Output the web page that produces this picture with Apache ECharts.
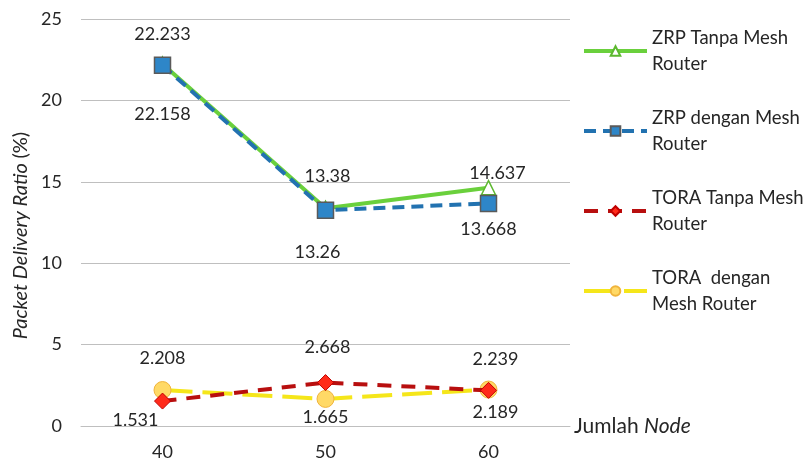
<!DOCTYPE html>
<html>
<head>
<meta charset="utf-8">
<script src="https://cdn.jsdelivr.net/npm/echarts@6/dist/echarts.min.js"></script>
<style>
  html, body { margin: 0; padding: 0; background: #ffffff; }
  #chart { width: 807px; height: 461px; }
</style>
</head>
<body>
<div id="chart"></div>
<script>
// Jumlah node (x categories)
const nodeCounts = ['40', '50', '60'];
// Packet delivery ratio (%) per scenario
const zrpTanpa = [22.233, 13.38, 14.637];
const zrpDengan = [22.158, 13.26, 13.668];
const toraTanpa = [1.531, 2.668, 2.189];
const toraDengan = [2.208, 1.665, 2.239];
const seriesNames = ['ZRP Tanpa Mesh Router', 'ZRP dengan Mesh Router', 'TORA Tanpa Mesh Router', 'TORA  dengan Mesh Router'];
const legendText = ['ZRP Tanpa Mesh\nRouter', 'ZRP dengan Mesh\nRouter', 'TORA Tanpa Mesh\nRouter', 'TORA  dengan\nMesh Router'];
const yTicks = [0, 5, 10, 15, 20, 25];

// value-label nudges (pixels) so labels clear the markers and each other
const labelNudge = [
  [[0, -30], [2, -32], [9, -15]],
  [[0, 49], [-8, 42], [0, 26]],
  [[-27, 19], [2, -35], [7, 22]],
  [[0, -32], [0, 18], [7, -30]]
];

const FONT = 'Lato, "Open Sans", sans-serif';
const INK = '#262626';

function points(values, idx) {
  return values.map((v, i) => ({
    value: v,
    label: { offset: labelNudge[idx][i] }
  }));
}

const labelBase = {
  show: true,
  position: 'inside',
  color: INK,
  fontSize: 18,
  fontFamily: FONT,
  formatter: p => String(p.value)
};

const chart = echarts.init(document.getElementById('chart'), null, { renderer: 'canvas' });

chart.setOption({
  animation: false,
  backgroundColor: '#ffffff',
  grid: { left: 81, right: 237, top: 19, bottom: 35, containLabel: false },
  legend: {
    orient: 'vertical',
    left: 577,
    top: 7,
    itemWidth: 63,
    itemHeight: 12,
    itemGap: 2,
    selectedMode: false,
    data: seriesNames,
    formatter: name => legendText[seriesNames.indexOf(name)],
    lineStyle: { width: 4 },
    textStyle: {
      fontFamily: FONT,
      fontSize: 18.5,
      color: INK,
      lineHeight: 26,
      padding: [26, 0, 0, 0]
    }
  },
  xAxis: {
    type: 'category',
    data: nodeCounts,
    boundaryGap: true,
    axisLine: { show: true, lineStyle: { color: '#bfbfbf', width: 1 } },
    axisTick: { show: false },
    axisLabel: { color: INK, fontSize: 18, fontFamily: FONT, margin: 17 },
    name: '{a|Jumlah }{b|Node}',
    nameLocation: 'end',
    nameGap: 4,
    nameTextStyle: {
      verticalAlign: 'middle',
      rich: {
        a: { fontFamily: FONT, fontSize: 21, color: INK },
        b: { fontFamily: FONT, fontSize: 21, color: INK, fontStyle: 'italic' }
      }
    }
  },
  yAxis: {
    type: 'value',
    min: yTicks[0],
    max: yTicks[yTicks.length - 1],
    interval: 5,
    axisLine: { show: false },
    axisTick: { show: false },
    splitLine: { lineStyle: { color: '#bfbfbf', width: 1 } },
    axisLabel: { color: INK, fontSize: 18, fontFamily: FONT, margin: 19 },
    name: '{a|Packet Delivery Ratio }{b|(%)}',
    nameLocation: 'middle',
    nameGap: 50,
    nameRotate: 90,
    nameTextStyle: {
      padding: [0, 26, 0, 0],
      rich: {
        a: { fontFamily: FONT, fontSize: 20, color: INK, fontStyle: 'italic' },
        b: { fontFamily: FONT, fontSize: 20, color: INK }
      }
    }
  },
  series: [
    {
      name: seriesNames[0],
      type: 'line',
      data: points(zrpTanpa, 0),
      symbol: 'triangle',
      symbolSize: 14,
      lineStyle: { color: '#6ad03c', width: 4 },
      itemStyle: { color: '#ffffff', borderColor: '#5cb82f', borderWidth: 1.5 },
      label: labelBase,
      z: 2
    },
    {
      name: seriesNames[1],
      type: 'line',
      data: points(zrpDengan, 1),
      symbol: 'rect',
      symbolSize: 16,
      lineStyle: { color: '#2272b0', width: 4, type: [12, 7] },
      itemStyle: { color: '#2e86c8', borderColor: '#5a5a5a', borderWidth: 1.5 },
      label: labelBase,
      z: 3
    },
    {
      name: seriesNames[2],
      type: 'line',
      data: points(toraTanpa, 2),
      symbol: 'diamond',
      symbolSize: 16,
      lineStyle: { color: '#b80f0f', width: 4, type: [14, 10] },
      itemStyle: { color: '#ff2a1a', borderColor: '#c00000', borderWidth: 1 },
      label: labelBase,
      z: 3
    },
    {
      name: seriesNames[3],
      type: 'line',
      data: points(toraDengan, 3),
      symbol: 'circle',
      symbolSize: 17,
      lineStyle: { color: '#f5e61a', width: 4, type: [30, 10] },
      itemStyle: { color: '#ffd966', borderColor: '#f0b43c', borderWidth: 1 },
      label: labelBase,
      z: 2
    }
  ]
});
</script>
</body>
</html>
